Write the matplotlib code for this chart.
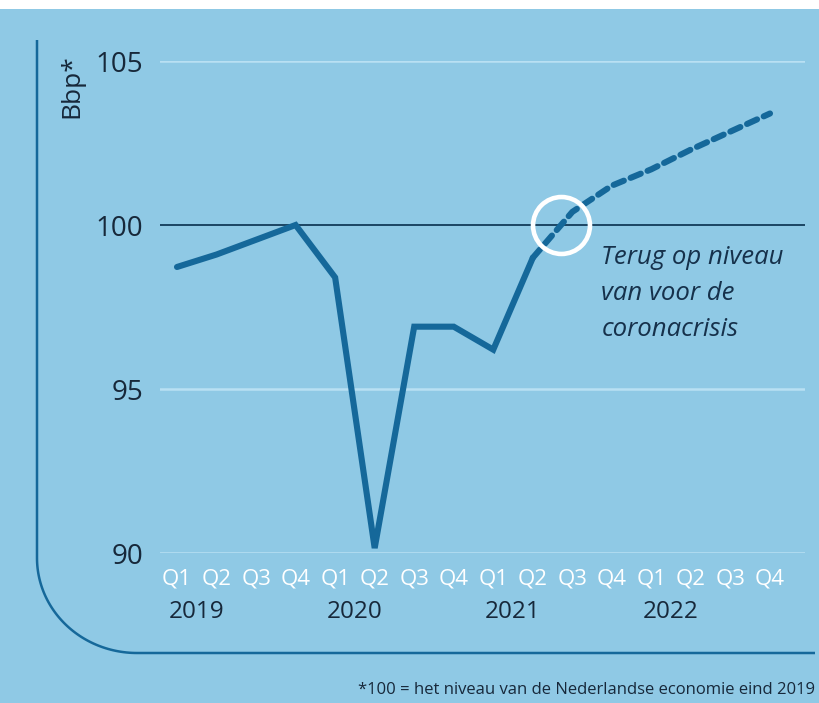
import numpy as np
import matplotlib
matplotlib.use("Agg")
import matplotlib.pyplot as plt
from matplotlib.transforms import blended_transform_factory

# ---- data ----
quarter_labels = ["Q1", "Q2", "Q3", "Q4"] * 4
years = ["2019", "2020", "2021", "2022"]
realized = [98.72, 99.1, 99.55, 100.0, 98.4, 90.15, 96.9, 96.9, 96.2, 99.0]  # Q1 2019 - Q2 2021
forecast = [99.0, 100.4, 101.2, 101.7, 102.3, 102.85, 103.4]               # Q2 2021 - Q4 2022
y_ticks = [90, 95, 100, 105]
annotation = "Terug op niveau\nvan voor de\ncoronacrisis"
ylabel = "Bbp*"
footnote = "*100 = het niveau van de Nederlandse economie eind 2019"

BG = "#8FC9E5"
LINE = "#15689A"
DARK = "#1B4563"
TEXT = "#17283A"
GRID = "#B9E0F3"

plt.rcParams['font.family'] = ['Open Sans', 'DejaVu Sans']

W, H = 819, 703
fig = plt.figure(figsize=(W / 100, H / 100), dpi=100, facecolor=BG)

# overlay axes in pixel coords for frame decoration
deco = fig.add_axes([0, 0, 1, 1], zorder=0)
deco.set_xlim(0, W)
deco.set_ylim(H, 0)
deco.axis("off")
deco.add_patch(plt.Rectangle((0, 0), W, 9, color="white", lw=0))
t = np.linspace(0, np.pi / 2, 60)
cx, cy, rx, ry = 137, 558, 100, 95
px = np.concatenate([[37], cx - rx * np.cos(t), [815]])
py = np.concatenate([[40], cy + ry * np.sin(t), [653]])
deco.plot(px, py, color=LINE, lw=1.8, solid_capstyle="butt")

# main axes
left, right = 160 / W, 805 / W
bottom, top = 1 - 553 / H, 1 - 61 / H
ax = fig.add_axes([left, bottom, right - left, top - bottom], zorder=1)
ax.set_facecolor("none")
ax.set_xlim(-0.43, 15.885)
ax.set_ylim(90, 105)
for s in ax.spines.values():
    s.set_visible(False)

for yv in y_ticks:
    if yv != 100:
        ax.axhline(yv, color=GRID, lw=1.8, zorder=1)
ax.axhline(100, color=DARK, lw=1.4, zorder=2)

x_real = np.arange(len(realized))
x_fc = np.arange(len(realized) - 1, len(realized) - 1 + len(forecast))
ax.plot(x_real, realized, color=LINE, lw=4.4, solid_joinstyle="miter",
        solid_capstyle="round", zorder=3, clip_on=False)
ax.plot(x_fc, forecast, color=LINE, lw=4.4, dashes=(1.8, 1.2),
        dash_capstyle="round", zorder=3, clip_on=False)

# circle marker where level returns to 100
cross_x = x_fc[0] + (100 - forecast[0]) / (forecast[1] - forecast[0])
ax.plot([cross_x], [100], marker="o", ms=41, mfc="none", mec="white",
        mew=3.3, zorder=4, clip_on=False)

ax.text(cross_x + 1.02, 99.4, annotation, ha="left", va="top",
        fontsize=18.5, style="italic", color="#16314B", linespacing=1.6,
        family=["Open Sans", "DejaVu Sans"])

ax.set_yticks(y_ticks)
ax.set_yticklabels([str(v) for v in y_ticks])
ax.set_xticks(np.arange(len(quarter_labels)))
ax.set_xticklabels(quarter_labels)
ax.tick_params(axis="y", length=0, pad=12, labelsize=20, labelcolor=TEXT)
ax.tick_params(axis="x", length=0, pad=11, labelsize=16, labelcolor="white")

trans = blended_transform_factory(ax.transData, fig.transFigure)
for k, yr in enumerate(years):
    ax.text(4 * k + 0.5, 1 - 612 / H, yr, transform=trans, ha="center",
            va="center", fontsize=17.5, color=TEXT)

fig.text(72 / W, 1 - 86 / H, ylabel, rotation=90, ha="center", va="center",
         fontsize=19, color=TEXT)

fig.text(815 / W, 1 - 690 / H, footnote, ha="right", va="center",
         fontsize=12, color=TEXT)

fig.savefig("out.png", dpi=100, facecolor=BG)
